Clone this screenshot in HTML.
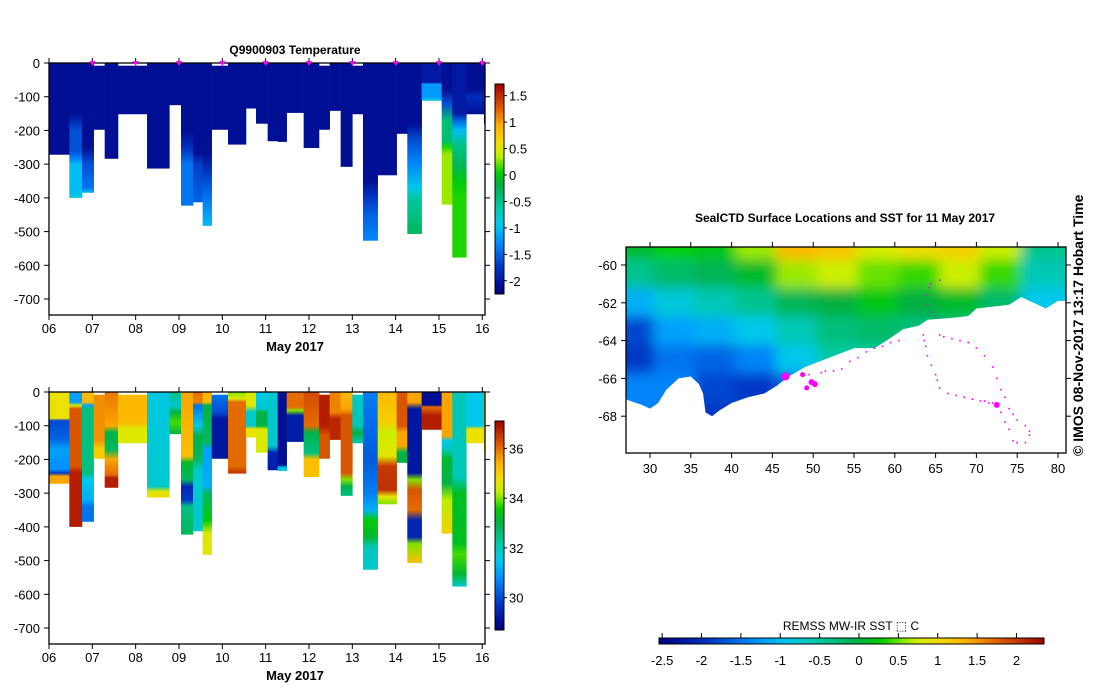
<!DOCTYPE html>
<html><head><meta charset="utf-8">
<style>
html,body{margin:0;padding:0;background:#fff;}
svg{display:block;font-family:"Liberation Sans",sans-serif;}
</style></head>
<body>
<svg id="root" width="1099" height="700" viewBox="0 0 1099 700" xmlns="http://www.w3.org/2000/svg">
<defs>
<filter id="blur" x="-20%" y="-20%" width="140%" height="140%"><feGaussianBlur stdDeviation="6"/></filter>
<clipPath id="mapclip"><rect x="626" y="247" width="440" height="206"/></clipPath>
</defs>
</svg>
<script>
// ---------- data ----------
const colStart = [6.0,6.469,6.762,7.031,7.285,7.592,8.262,8.777,9.046,9.323,9.546,9.754,10.131,10.546,10.777,11.046,11.277,11.485,11.877,12.231,12.477,12.731,13.0,13.246,13.585,14.023,14.269,14.6,15.062,15.308,15.631,16.038];
const colEnd = 16.06;
const colTop = [0,0,0,8,0,8,0,0,0,0,0,8,0,0,0,0,0,0,0,8,0,0,8,0,0,0,0,0,0,0,0,0];
const colMax = [272,400,385,198,284,152,313,125,423,413,483,198,242,135,180,232,234,148,252,198,142,308,152,527,333,210,507,112,420,577,152,180];
// temperature profiles: depth/value pairs per cast
const tProf = [
 [[0,-2.1],[272,-2.1]],
 [[0,-2.1],[150,-2.1],[200,-1.6],[260,-1.6],[285,-1.3],[300,-1.0],[370,-1.0],[400,-0.9]],
 [[0,-2.1],[250,-2.1],[300,-1.6],[370,-1.4],[385,-1.0]],
 [[8,-2.1],[198,-2.1]],[[0,-2.1],[284,-2.1]],[[8,-2.1],[152,-2.1]],[[0,-2.1],[313,-2.1]],[[0,-2.1],[125,-2.1]],
 [[0,-2.1],[200,-2.1],[250,-1.8],[300,-1.4],[423,-1.4]],
 [[0,-2.1],[270,-2.1],[300,-1.7],[413,-1.5]],
 [[0,-2.1],[270,-2.1],[330,-1.7],[400,-1.4],[483,-1.0]],
 [[8,-2.1],[198,-2.1]],[[0,-2.1],[242,-2.1]],[[0,-2.1],[135,-2.1]],[[0,-2.1],[180,-2.1]],[[0,-2.1],[232,-2.1]],
 [[0,-2.1],[234,-2.1]],[[0,-2.1],[148,-2.1]],[[0,-2.1],[252,-2.1]],[[8,-2.1],[198,-2.1]],[[0,-2.1],[142,-2.1]],
 [[0,-2.1],[308,-2.1]],[[8,-2.1],[152,-2.1]],
 [[0,-2.1],[350,-2.1],[390,-1.8],[450,-1.5],[527,-1.3]],
 [[0,-2.1],[333,-2.1]],[[0,-2.1],[210,-2.1]],
 [[0,-2.1],[180,-2.1],[230,-1.6],[300,-1.3],[370,-0.9],[400,-0.6],[507,-0.3]],
 [[0,-2.0],[58,-2.0],[62,-1.2],[100,-1.2],[112,-0.9]],
 [[0,-2.1],[80,-2.1],[120,-1.6],[170,-0.4],[230,-0.4],[250,0.1],[270,0.3],[420,0.3]],
 [[0,-2.0],[150,-2.0],[170,-1.5],[200,-1.0],[240,-0.5],[300,-0.3],[350,0.0],[400,0.1],[577,0.1]],
 [[0,-2.1],[80,-2.1],[100,-1.8],[152,-2.1]],
 [[0,-2.1],[180,-2.1]]
];
// salinity profiles
const sProf = [
 [[0,34.7],[78,34.7],[85,30.0],[140,30.3],[170,31.0],[230,30.8],[240,29.8],[250,35.5],[272,35.5]],
 [[0,31.0],[30,31.0],[40,34.5],[50,36.2],[220,36.2],[240,36.8],[400,36.8]],
 [[0,35.3],[30,35.3],[40,31.0],[50,32.5],[240,32.5],[260,31.5],[320,31.2],[340,30.5],[385,30.5]],
 [[8,35.7],[140,35.7],[170,35.0],[198,35.0]],
 [[0,35.9],[100,35.5],[120,33.0],[170,32.8],[200,35.5],[245,36.0],[255,36.8],[284,36.8]],
 [[8,35.3],[90,35.3],[110,34.5],[152,34.5]],
 [[0,31.6],[280,31.8],[295,34.5],[313,34.8]],
 [[0,32.5],[40,31.8],[60,33.0],[90,33.8],[125,33.0]],
 [[0,35.5],[190,35.2],[210,33.2],[260,32.8],[280,29.5],[320,29.8],[340,32.5],[420,32.8]],
 [[0,36.0],[30,35.8],[40,30.5],[100,31.5],[130,33.0],[200,32.8],[230,31.8],[413,31.8]],
 [[0,35.3],[30,35.3],[40,33.0],[150,32.8],[170,31.0],[280,31.2],[300,32.8],[380,33.5],[420,34.5],[483,34.6]],
 [[8,30.5],[60,30.0],[80,29.2],[198,29.2]],
 [[0,34.0],[20,34.5],[30,36.0],[220,36.0],[242,36.6]],
 [[0,34.5],[40,34.5],[60,31.8],[100,31.8],[110,34.7],[135,34.7]],
 [[0,31.5],[50,31.8],[60,33.0],[100,33.0],[110,34.5],[180,34.5]],
 [[0,31.8],[160,31.8],[180,29.5],[232,29.3]],
 [[0,29.0],[215,29.0],[225,31.5],[234,31.8]],
 [[0,36.0],[45,36.0],[55,34.0],[70,29.3],[148,29.3]],
 [[0,36.3],[100,36.0],[120,33.0],[180,32.5],[200,35.2],[250,35.2]],
 [[8,36.8],[100,36.8],[130,36.2],[198,36.2]],
 [[0,35.8],[60,35.8],[80,36.7],[142,36.7]],
 [[0,35.3],[50,35.5],[70,36.2],[240,36.2],[260,34.0],[280,33.0],[308,32.5]],
 [[8,31.8],[100,32.0],[120,33.0],[152,32.0]],
 [[0,30.6],[200,30.2],[300,30.6],[350,31.2],[380,33.5],[430,33.2],[460,32.0],[527,31.8]],
 [[0,35.3],[90,35.0],[120,34.3],[190,34.6],[220,36.5],[290,36.6],[310,34.6],[333,34.0]],
 [[0,36.2],[100,36.2],[120,35.5],[160,35.5],[180,33.0],[210,33.0]],
 [[0,35.5],[30,35.5],[50,29.2],[240,29.2],[260,34.0],[290,36.2],[350,36.0],[380,29.5],[430,29.5],[450,34.0],[507,35.2]],
 [[0,29.0],[38,29.0],[45,36.0],[70,36.8],[112,36.8]],
 [[0,35.5],[130,35.5],[145,31.5],[170,32.0],[200,33.2],[270,33.0],[320,34.2],[420,35.0]],
 [[0,32.0],[250,32.0],[300,33.3],[450,33.3],[480,33.8],[540,33.2],[577,31.8]],
 [[0,31.5],[100,31.5],[110,34.7],[152,34.7]],
 [[0,34.5],[180,34.5]]
];
const tTicks = [0,-100,-200,-300,-400,-500,-600,-700];
const dayTicks = ['06','07','08','09','10','11','12','13','14','15','16'];
const tBarTicks = [1.5,1,0.5,0,-0.5,-1,-1.5,-2];
const sBarTicks = [36,34,32,30];
const tBarRange = [-2.25,1.72];
const sBarRange = [28.7,37.1];
// SST map field
const sstLons = [28,33,38,43,48,53,58,63,68,73,78,83];
const sstLats = [-59.0,-60.5,-62,-63.5,-65,-66.5,-68];
const sstVals = [
 [0.1,0.3,0.2,0.6,1.3,1.2,0.8,1.0,1.1,0.7,-0.4,-0.4],
 [-0.4,-0.2,-0.1,0.1,0.6,0.7,0.5,0.4,0.7,0.4,-0.6,-0.6],
 [-1.1,-0.8,-0.6,-0.4,-0.1,0.0,0.2,0.0,0.1,-0.2,-0.9,-0.9],
 [-1.8,-1.2,-1.1,-0.9,-0.6,-0.3,-0.2,-0.3,-0.3,-0.3,-0.9,-0.9],
 [-1.9,-1.5,-1.6,-1.4,-0.9,-0.5,-0.5,-0.5,-0.5,-0.5,-0.9,-0.9],
 [-1.4,-1.4,-1.8,-1.9,-1.6,-0.9,-0.5,-0.5,-0.5,-0.5,-0.9,-0.9],
 [-1.4,-1.4,-1.9,-1.8,-1.6,-0.9,-0.5,-0.5,-0.5,-0.5,-0.9,-0.9]
];
const coastLon = [27,29,30,31,32,33.5,35,36,36.5,36.8,37.6,38.5,40,42,44,45.5,47,49,52,55,57.5,59,61,63,64,67,69,70,72,74,75.5,77,78.5,80,81.5,81.5,27];
const coastLat = [-67.1,-67.4,-67.6,-67.3,-66.6,-66.0,-65.9,-66.3,-66.8,-67.8,-68.0,-67.7,-67.3,-67.0,-66.8,-66.4,-65.9,-65.4,-64.9,-64.4,-64.4,-64.0,-63.4,-63.2,-62.9,-62.8,-62.7,-62.3,-62.2,-62.1,-61.7,-62.0,-62.3,-61.9,-61.9,-70.5,-70.5];
const trackLon = [48.5,49.5,51,51.5,52.5,53.5,54.5,55.5,56.5,57.5,58.5,59.5,60.5,63.5,63.6,63.8,64,64.5,65,65.2,65.5,66.5,67.5,68.5,69.5,70.5,71,71.5,72,72.5,73,73.5,74,74.5,75,76,76.5,76.5,76,75,74.5,74,73.5,73,72.5,72,71,70,69,68,67,66,65.5,65,64.5,64,63.8,64.2,64.4,65.5];
const trackLat = [-65.8,-65.8,-65.7,-65.6,-65.6,-65.5,-65.1,-64.9,-64.6,-64.4,-64.3,-64.1,-64.0,-63.7,-64.0,-64.3,-64.8,-65.3,-65.8,-66.1,-66.5,-66.8,-66.9,-67.0,-67.1,-67.2,-67.2,-67.3,-67.3,-67.4,-67.8,-68.3,-68.7,-69.3,-69.4,-69.4,-69.0,-68.8,-68.5,-68.2,-67.9,-67.6,-67.0,-66.6,-66.0,-65.4,-64.8,-64.4,-64.1,-64.0,-63.9,-63.8,-63.7,-62.7,-62.5,-62.1,-61.6,-61.2,-61.0,-60.8];
const stationLon = [46.6,48.7,49.2,49.8,50.2,72.5];
const stationLat = [-65.9,-65.8,-66.5,-66.2,-66.3,-67.4];
const stationSize = [4,2.5,2.5,3,3,3];
const mapXTicks = [30,35,40,45,50,55,60,65,70,75,80];
const mapYTicks = [-60,-62,-64,-66,-68];
const sstBarTicks = [-2.5,-2,-1.5,-1,-0.5,0,0.5,1,1.5,2];
const sstRange = [-2.54,2.35];

// ---------- helpers ----------
const NS = 'http://www.w3.org/2000/svg';
const root = document.getElementById('root');
const defs = root.querySelector('defs');
function mk(tag, attrs, parent) {
  const e = document.createElementNS(NS, tag);
  for (const k in attrs) e.setAttribute(k, attrs[k]);
  (parent || root).appendChild(e);
  return e;
}
const cmStops = [[0,[0,0,128]],[0.12,[0,48,192]],[0.25,[0,144,255]],[0.33,[0,200,240]],[0.42,[0,200,160]],[0.52,[0,176,64]],[0.58,[0,208,0]],[0.66,[200,240,0]],[0.72,[240,224,0]],[0.80,[255,176,0]],[0.88,[224,96,0]],[1,[160,0,0]]];
function cmap(f) {
  f = Math.max(0, Math.min(1, f));
  for (let i = 1; i < cmStops.length; i++) {
    if (f <= cmStops[i][0]) {
      const a = cmStops[i-1], b = cmStops[i];
      const t = (f - a[0]) / (b[0] - a[0]);
      const c = a[1].map((v, j) => Math.round(v + (b[1][j] - v) * t));
      return 'rgb(' + c.join(',') + ')';
    }
  }
  return 'rgb(160,0,0)';
}
let gid = 0;
function vGrad(stops) {
  const g = mk('linearGradient', {id: 'g' + (++gid), x1: 0, y1: 0, x2: 0, y2: 1}, defs);
  stops.forEach(s => mk('stop', {offset: s[0], 'stop-color': s[1]}, g));
  return 'url(#g' + gid + ')';
}
function hGrad(stops) {
  const g = mk('linearGradient', {id: 'g' + (++gid), x1: 0, y1: 0, x2: 1, y2: 0}, defs);
  stops.forEach(s => mk('stop', {offset: s[0], 'stop-color': s[1]}, g));
  return 'url(#g' + gid + ')';
}
function txt(x, y, s, opts, parent) {
  const e = mk('text', Object.assign({x: x, y: y, 'font-size': 13, fill: '#000'}, opts || {}), parent);
  e.textContent = s;
  return e;
}

// ---------- section charts ----------
const xDay = d => 49 + (d - 6) * 43.33;
function section(y0, prof, range, barTop, barBot, barTicks, prefix) {
  const yz = z => y0 + z * 0.3372;
  const g = mk('g', {});
  
  
  for (let i = 0; i < colStart.length; i++) {
    const x1 = xDay(colStart[i]);
    const x2 = xDay(i + 1 < colStart.length ? colStart[i + 1] : colEnd);
    const top = colTop[i], bot = colMax[i];
    const p = prof[i];
    const stops = p.map(s => [Math.max(0, Math.min(1, (s[0] - top) / (bot - top))), cmap((s[1] - range[0]) / (range[1] - range[0]))]);
    const r = mk('rect', {x: x1, y: yz(top), width: x2 - x1 + 0.3, height: yz(bot) - yz(top), fill: vGrad(stops)}, g);
    
    
  }
  const frame = mk('rect', {x: 49, y: y0, width: 436, height: 252, fill: 'none', stroke: '#000', 'stroke-width': 1.3});
  
  
  tTicks.forEach(v => {
    const y = yz(-v);
    mk('line', {x1: 44, y1: y, x2: 49, y2: y, stroke: '#000'});
    mk('line', {x1: 485, y1: y, x2: 490, y2: y, stroke: '#000'});
    const t = txt(40, y + 5, String(v), {'text-anchor': 'end'});
    
    
  });
  dayTicks.forEach((d, i) => {
    const x = xDay(6 + i);
    mk('line', {x1: x, y1: y0 + 252, x2: x, y2: y0 + 257, stroke: '#000'});
    mk('line', {x1: x, y1: y0, x2: x, y2: y0 - 5, stroke: '#000'});
    const t = txt(x, y0 + 270, d, {'text-anchor': 'middle'});
    
    
  });
  const xl = txt(295, y0 + 288, 'May 2017', {'text-anchor': 'middle', 'font-weight': 'bold'});
  
  
  const n = 40, cs = [];
  for (let k = 0; k <= n; k++) cs.push([k / n, cmap(1 - k / n)]);
  const bar = mk('rect', {x: 495, y: barTop, width: 9, height: barBot - barTop, fill: vGrad(cs), stroke: '#000', 'stroke-width': 1});
  
  
  barTicks.forEach(v => {
    const y = barBot - (v - range[0]) / (range[1] - range[0]) * (barBot - barTop);
    mk('line', {x1: 504, y1: y, x2: 507, y2: y, stroke: '#000'});
    const t = txt(509, y + 5, String(v), {});
    
    
  });
}
section(63, tProf, tBarRange, 84, 294, tBarTicks, 'temperature');
section(392, sProf, sBarRange, 421, 630, sBarTicks, 'salinity');
const title1 = txt(295, 54, 'Q9900903  Temperature', {'text-anchor': 'middle', 'font-weight': 'bold', 'font-size': 12});


for (let d = 7; d <= 16; d++) {
  const m = mk('path', {d: 'M' + (xDay(d) - 3) + ' 61 L' + (xDay(d) + 3) + ' 61 L' + xDay(d) + ' 66 Z', fill: '#ff00ff'});
  
  
}

// ---------- map ----------
const lonX = l => 650 + (l - 30) * 8.16;
const latY = la => 265 + (-60 - la) * 18.9;
const mapG = mk('g', {'clip-path': 'url(#mapclip)'});


const field = mk('g', {filter: 'url(#blur)'}, mapG);
sstLats.forEach((la, r) => {
  sstLons.forEach((lo, c) => {
    const cell = mk('rect', {x: lonX(lo - 2.5) - 0.5, y: latY(la + 0.75) - 0.5, width: 5 * 8.16 + 1, height: 1.5 * 18.9 + 1, fill: cmap((sstVals[r][c] - sstRange[0]) / (sstRange[1] - sstRange[0]))}, field);
    
    
  });
});
const land = mk('polygon', {points: coastLon.map((l, i) => lonX(l) + ',' + latY(coastLat[i])).join(' '), fill: '#fff'}, mapG);


trackLon.forEach((l, i) => {
  const d = mk('rect', {x: lonX(l) - 0.8, y: latY(trackLat[i]) - 0.8, width: 1.6, height: 1.6, fill: '#ff00ff'}, mapG);
  
  
});
stationLon.forEach((l, i) => {
  const d = mk('circle', {cx: lonX(l), cy: latY(stationLat[i]), r: stationSize[i], fill: '#ff00ff'}, mapG);
  
  
});
const mframe = mk('rect', {x: 626, y: 247, width: 440, height: 206, fill: 'none', stroke: '#000', 'stroke-width': 1.3});


mapXTicks.forEach(v => {
  const x = lonX(v);
  mk('line', {x1: x, y1: 247, x2: x, y2: 242, stroke: '#000'});
  mk('line', {x1: x, y1: 453, x2: x, y2: 458, stroke: '#000'});
  const t = txt(x, 473, String(v), {'text-anchor': 'middle'});
  
  
});
mapYTicks.forEach(v => {
  const y = latY(v);
  mk('line', {x1: 621, y1: y, x2: 626, y2: y, stroke: '#000'});
  mk('line', {x1: 1066, y1: y, x2: 1071, y2: y, stroke: '#000'});
  const t = txt(617, y + 5, String(v), {'text-anchor': 'end'});
  
  
});
const mtitle = txt(845, 222, 'SealCTD Surface Locations and SST for 11 May 2017', {'text-anchor': 'middle', 'font-weight': 'bold', 'font-size': 12});


const hs = [];
for (let k = 0; k <= 40; k++) hs.push([k / 40, cmap(k / 40)]);
const sbar = mk('rect', {x: 659, y: 638, width: 385, height: 6, fill: hGrad(hs), stroke: '#000', 'stroke-width': 1});


sstBarTicks.forEach(v => {
  const x = 659 + (v - sstRange[0]) / (sstRange[1] - sstRange[0]) * 385;
  mk('line', {x1: x, y1: 633, x2: x, y2: 638, stroke: '#000'});
  const t = txt(x, 665, String(v), {'text-anchor': 'middle'});
  
  
});
const sl = txt(851, 630, 'REMSS MW-IR SST \u2B1A C', {'text-anchor': 'middle', 'font-size': 12});


const stamp = txt(0, 0, '\u00A9  IMOS 08-Nov-2017 13:17 Hobart Time', {'font-weight': 'bold', 'font-size': 14, transform: 'translate(1083,456) rotate(-90)'});


</script>
</body></html>
